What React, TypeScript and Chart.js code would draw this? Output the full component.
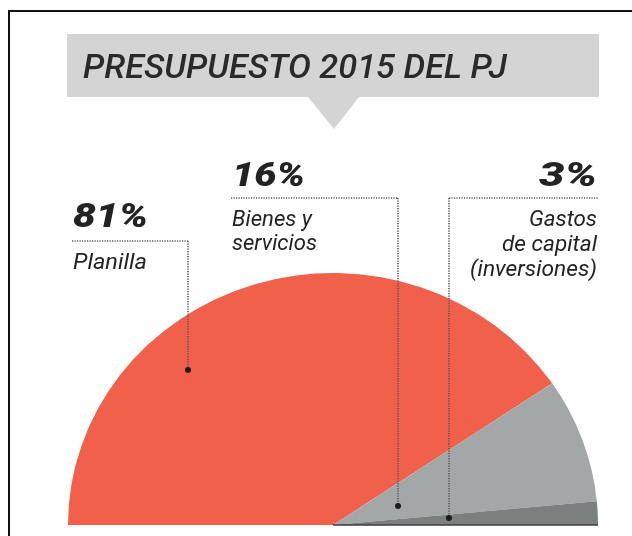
import React, { useEffect, useRef } from "react";
import { Chart, registerables } from "chart.js";

Chart.register(...registerables);

// ---- data ----
const categories = ["Planilla", "Bienes y servicios", "Gastos de capital (inversiones)"];
const shares = [81, 16, 3];
const percentLabels = ["81%", "16%", "3%"];
const labelLines = [["Planilla"], ["Bienes y", "servicios"], ["Gastos", "de capital", "(inversiones)"]];
const sliceColors = ["#F0604B", "#A4A7A7", "#7B807F"];
const chartTitle = "PRESUPUESTO 2015 DEL PJ";

const FLATTEN = 252 / 265;
const TEXT = "#232323";

function fitText(ctx: CanvasRenderingContext2D, text: string, x: number, y: number, width: number, align: CanvasTextAlign) {
  const w = ctx.measureText(text).width || 1;
  ctx.save();
  ctx.translate(x, y);
  ctx.scale(width / w, 1);
  ctx.textAlign = align;
  ctx.textBaseline = "alphabetic";
  ctx.fillText(text, 0, 0);
  ctx.restore();
}

// annotation layout (positions of labels and leader lines)
const annotations = [
  { align: "left" as CanvasTextAlign, x: 73, pctBase: 227, pctW: 75, lineW: [74], bases: [269], hx1: 72, hx2: 188, hy: 241, vx: 188, dotY: 370 },
  { align: "left" as CanvasTextAlign, x: 232, pctBase: 186, pctW: 73, lineW: [80, 85], bases: [226, 250], hx1: 231, hx2: 398, hy: 198, vx: 398, dotY: 506 },
  { align: "right" as CanvasTextAlign, x: 597, pctBase: 186, pctW: 58, lineW: [68, 95, 127], bases: [226, 251, 276], hx1: 449, hx2: 598, hy: 198, vx: 449, dotY: 518 },
];

const flattenPlugin = {
  id: "flatten",
  beforeDatasetsDraw(chart: any) {
    const arc = chart.getDatasetMeta(0).data[0];
    const ctx = chart.ctx;
    ctx.save();
    ctx.translate(arc.x, arc.y);
    ctx.scale(1, FLATTEN);
    ctx.translate(-arc.x, -arc.y);
  },
  afterDatasetsDraw(chart: any) {
    chart.ctx.restore();
    const arc = chart.getDatasetMeta(0).data[0];
    const ctx = chart.ctx;
    ctx.save();
    ctx.strokeStyle = "#3c3c3c";
    ctx.lineWidth = 1.5;
    ctx.beginPath();
    ctx.moveTo(arc.x, arc.y);
    ctx.lineTo(arc.x + arc.outerRadius, arc.y);
    ctx.stroke();
    ctx.restore();
  },
};

const decorPlugin = {
  id: "decor",
  afterDraw(chart: any) {
    const ctx: CanvasRenderingContext2D = chart.ctx;
    ctx.save();
    // frame
    ctx.fillStyle = "#111";
    ctx.fillRect(8, 10, 632, 2);
    ctx.fillRect(8, 10, 2, 536);
    // banner
    ctx.fillStyle = "#D4D4D4";
    ctx.fillRect(67, 34, 532, 63);
    ctx.beginPath();
    ctx.moveTo(308, 97);
    ctx.lineTo(359, 97);
    ctx.lineTo(334, 129);
    ctx.closePath();
    ctx.fill();
    ctx.fillStyle = "#2a2a2a";
    ctx.font = "italic 500 33px Roboto, 'DejaVu Sans', sans-serif";
    fitText(ctx, chartTitle, 83, 78, 424, "left");

    // labels and leader lines
    annotations.forEach((a, i) => {
      ctx.strokeStyle = "#5a5a5a";
      ctx.lineWidth = 1.6;
      ctx.setLineDash([1.2, 1.3]);
      ctx.beginPath();
      ctx.moveTo(a.hx1, a.hy);
      ctx.lineTo(a.hx2, a.hy);
      ctx.moveTo(a.vx, a.hy);
      ctx.lineTo(a.vx, a.dotY);
      ctx.stroke();
      ctx.setLineDash([]);
      ctx.fillStyle = "#1c1c1c";
      ctx.beginPath();
      ctx.arc(a.vx, a.dotY, 3, 0, Math.PI * 2);
      ctx.fill();

      ctx.fillStyle = TEXT;
      ctx.font = "italic 900 34px Roboto, 'DejaVu Sans', sans-serif";
      fitText(ctx, percentLabels[i], a.x, a.pctBase, a.pctW, a.align);
      ctx.font = "italic 400 22px Roboto, 'DejaVu Sans', sans-serif";
      labelLines[i].forEach((t, j) => fitText(ctx, t, a.x, a.bases[j], a.lineW[j], a.align));
    });
    ctx.restore();
  },
};

export default function App() {
  const ref = useRef<HTMLCanvasElement | null>(null);
  useEffect(() => {
    if (!ref.current) return;
    const chart = new Chart(ref.current, {
      type: "doughnut",
      data: {
        labels: categories,
        datasets: [{ data: shares, backgroundColor: sliceColors, borderWidth: 0 }],
      },
      options: {
        responsive: false,
        animation: false,
        rotation: -90,
        circumference: 180,
        cutout: 0,
        layout: { padding: { left: 68, right: 34, top: 260, bottom: 11 } },
        plugins: { legend: { display: false }, tooltip: { enabled: false }, title: { display: false } },
        events: [],
      },
      plugins: [flattenPlugin, decorPlugin],
    } as any);
    return () => chart.destroy();
  }, []);
  return (
    <div style={{ position: "absolute", left: 0, top: 0, width: 632, height: 536, background: "#fff" }}>
      <canvas ref={ref} width={632} height={536} style={{ display: "block" }} />
    </div>
  );
}
